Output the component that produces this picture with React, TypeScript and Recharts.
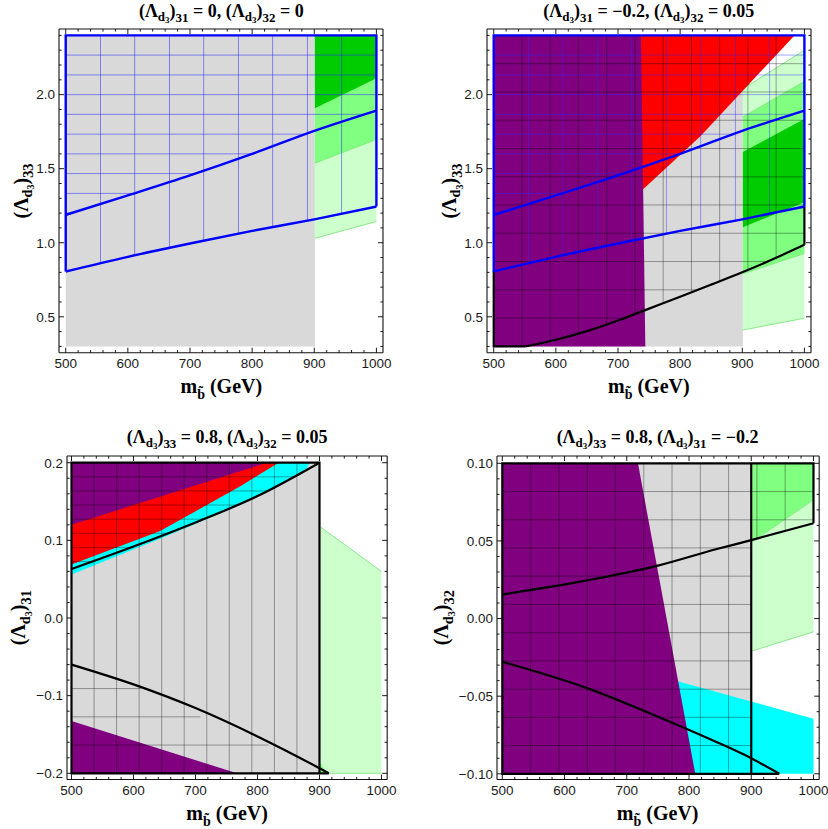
import React from 'react';
import { ComposedChart, Area, Line, XAxis, YAxis } from 'recharts';

// ---------------- ticks ----------------
const MASS_MAJOR = [500, 600, 700, 800, 900, 1000];
const MASS_TICKS = [500, 520, 540, 560, 580, 600, 620, 640, 660, 680, 700, 720, 740, 760, 780, 800, 820, 840, 860, 880, 900, 920, 940, 960, 980, 1000];
const L33_MAJOR = [0.5, 1.0, 1.5, 2.0];
const L33_TICKS = [0.3, 0.4, 0.5, 0.6, 0.7, 0.8, 0.9, 1.0, 1.1, 1.2, 1.3, 1.4, 1.5, 1.6, 1.7, 1.8, 1.9, 2.0, 2.1, 2.2, 2.3, 2.4];
const L31_MAJOR = [-0.2, -0.1, 0, 0.1, 0.2];
const L31_TICKS = [-0.2, -0.18, -0.16, -0.14, -0.12, -0.1, -0.08, -0.06, -0.04, -0.02, 0, 0.02, 0.04, 0.06, 0.08, 0.1, 0.12, 0.14, 0.16, 0.18, 0.2];
const L32_MAJOR = [-0.1, -0.05, 0, 0.05, 0.1];
const L32_TICKS = [-0.1, -0.09, -0.08, -0.07, -0.06, -0.05, -0.04, -0.03, -0.02, -0.01, 0, 0.01, 0.02, 0.03, 0.04, 0.05, 0.06, 0.07, 0.08, 0.09, 0.1];

// ---------------- panel A: (L)31 = 0, (L)32 = 0 ----------------  rows: [x, low, high]
const A_GRAY = [[500, 0.3, 2.4], [901, 0.3, 2.4]];
const A_LIGHT = [[901, 1.03, 2.4], [1000, 1.143, 2.4]];
const A_MED = [[901, 1.537, 2.4], [1000, 1.697, 2.4]];
const A_DARK = [[901, 1.908, 2.4], [1000, 2.11, 2.4]];
// blue contours (shared by A and B): [x, y]
const BLUE_UPPER = [[500, 1.188], [600, 1.32], [700, 1.455], [800, 1.6], [900, 1.755], [1000, 1.892]];
const BLUE_LOWER = [[500, 0.806], [600, 0.905], [700, 0.995], [800, 1.08], [900, 1.158], [1000, 1.244]];
const BLUE_EDGES = [[1000, 1.244], [1000, 2.4], [500, 2.4], [500, 0.806]];
// blue mesh: verticals [x, yBottom, yTop], horizontals [y, xStart, xEnd]
const BLUE_MESH_V = [[556, 0.86, 2.4], [611, 0.915, 2.4], [667, 0.965, 2.4], [722, 1.015, 2.4], [778, 1.063, 2.4], [833, 1.107, 2.4], [889, 1.15, 2.4], [944, 1.195, 2.4]];
const BLUE_MESH_H = [[2.267, 500, 1000], [2.133, 500, 1000], [2.0, 500, 1000], [1.867, 500, 983], [1.733, 500, 886], [1.6, 500, 800], [1.467, 500, 708], [1.333, 500, 610], [1.2, 500, 511]];

// ---------------- panel B: (L)31 = -0.2, (L)32 = 0.05 ----------------
const B_GRAY = [[500, 0.3, 2.4], [901, 0.3, 2.4]];
const B_RED = [[735, 1.36, 2.4], [740, 1.36, 2.4], [833, 1.72, 2.4], [984, 2.4, 2.4]];
const B_PURPLE = [[500, 0.3, 2.4], [737, 0.3, 2.4], [744, 0.3, 0.3]];
const B_LIGHT = [[901, 0.41, 2.04], [1000, 0.49, 2.3]];
const B_MED = [[901, 0.79, 1.85], [1000, 0.927, 2.09]];
const B_DARK = [[901, 1.105, 1.612], [1000, 1.274, 1.835]];
const B_CURVE = [[551, 0.3], [600, 0.345], [650, 0.403], [700, 0.475], [750, 0.555], [800, 0.635], [850, 0.717], [900, 0.8], [950, 0.89], [1000, 0.986]];
const B_EDGES = [[1000, 0.986], [1000, 1.244]];
const B_FLOOR = [[551, 0.3], [500, 0.3], [500, 0.81]];
const B_MESH_V = [[545.5, 0.3, 2.4], [591, 0.337, 2.4], [636.4, 0.387, 2.4], [681.8, 0.448, 2.4], [727.3, 0.518, 2.4], [772.7, 0.592, 2.4], [818.2, 0.665, 2.4], [863.6, 0.74, 2.4], [909.1, 0.815, 2.4], [954.5, 0.9, 2.4]];
const B_MESH_H = [[0.491, 500, 711], [0.682, 500, 828], [0.873, 500, 940], [1.064, 500, 1000], [1.255, 500, 1000], [1.445, 500, 1000], [1.636, 500, 1000], [1.827, 500, 1000], [2.018, 500, 1000], [2.209, 500, 1000]];

// ---------------- panel C: (L)33 = 0.8, (L)32 = 0.05 ----------------
const C_GRAY = [[500, -0.2, 0.2], [900, -0.2, 0.2]];
const C_LIGHT = [[902, -0.2, 0.117], [1000, -0.2, 0.06]];
const C_MEDTRI = [[901, -0.2, -0.186], [912, -0.2, -0.2]];
const C_PURPLE_TOP = [[500, 0.12, 0.2], [815, 0.2, 0.2]];
const C_RED = [[500, 0.069, 0.2], [643, 0.112, 0.2], [773, 0.17, 0.2], [834, 0.2, 0.2]];
const C_CYAN = [[500, 0.056, 0.2], [643, 0.102, 0.2], [773, 0.146, 0.2], [834, 0.172, 0.2], [880, 0.193, 0.2], [884, 0.2, 0.2]];
const C_PURPLE_LOW = [[500, -0.2, -0.1325], [767, -0.2, -0.2]];
const C_UPPER = [[500, 0.063], [600, 0.092], [700, 0.123], [800, 0.157], [900, 0.2]];
const C_LOWER = [[500, -0.06], [600, -0.0855], [700, -0.116], [800, -0.1525], [900, -0.1935], [915, -0.2]];
const C_FRAME = [[915, -0.2], [500, -0.2], [500, 0.2], [900, 0.2], [900, -0.2]];
const C_MESH_V = [[536.4, -0.2, 0.2], [572.7, -0.2, 0.2], [609.1, -0.2, 0.2], [645.5, -0.2, 0.2], [681.8, -0.2, 0.2], [718.2, -0.2, 0.2], [754.5, -0.2, 0.2], [790.9, -0.2, 0.2], [827.3, -0.2, 0.2], [863.6, -0.2, 0.2]];
const C_MESH_H = [[0.0727, 500, 533], [0.0909, 500, 596], [0.1091, 500, 655], [0.1273, 500, 713], [0.1455, 500, 766], [0.1636, 500, 815], [0.1818, 500, 858], [-0.0909, 500, 612], [-0.1273, 500, 708], [-0.1636, 500, 818]];

// ---------------- panel D: (L)33 = 0.8, (L)31 = -0.2 ----------------
const D_GRAY = [[500, -0.1, 0.1], [900, -0.1, 0.1]];
const D_LIGHT = [[902, -0.0208, 0.1], [1000, -0.0086, 0.1]];
const D_MED = [[902, 0.0495, 0.1], [1000, 0.0765, 0.1]];
const D_CYAN = [[770, -0.1, -0.039], [783, -0.1, -0.0406], [1000, -0.1, -0.0645]];
const D_PURPLE = [[500, -0.1, 0.1], [718, -0.1, 0.1], [810, -0.1, -0.1]];
const D_UPPER = [[500, 0.0155], [634, 0.0244], [750, 0.0341], [843, 0.0446], [900, 0.0505], [1000, 0.0614]];
const D_LOWER = [[500, -0.0278], [634, -0.0445], [750, -0.0632], [843, -0.0793], [900, -0.09], [945, -0.1]];
const D_FRAME = [[945, -0.1], [500, -0.1], [500, 0.1], [1000, 0.1], [1000, 0.0614]];
const D_DIVIDER = [[900, -0.1], [900, 0.1]];
const D_MESH_V = [[545.5, -0.1, 0.1], [591, -0.1, 0.1], [636.4, -0.1, 0.1], [681.8, -0.1, 0.1], [727.3, -0.1, 0.1], [772.7, -0.1, 0.1], [818.2, -0.1, 0.1], [863.6, -0.1, 0.1], [909.1, 0.051, 0.1], [954.5, 0.056, 0.1]];
const D_MESH_H = [[-0.0818, 500, 900], [-0.0636, 500, 900], [-0.0455, 500, 900], [-0.0273, 500, 900], [-0.0091, 500, 900], [0.0091, 500, 900], [0.0273, 500, 900], [0.0455, 500, 900], [0.0636, 500, 1000], [0.0818, 500, 1000]];

// ---------------- colours ----------------
const GRAY = '#d9d9d9';
const PURPLE = '#800080';
const RED = '#ff0000';
const CYAN = '#00ffff';
const DARKG = '#00cc00';
const MEDG = '#80ff80';
const LIGHTG = '#ccffcc';
const GEDGE = '#66dd66';
const BLUE = '#0000ff';

// ---------------- helpers ----------------
const band = (rows: number[][]) => rows.map(([x, lo, hi]) => ({ x, r: [lo, hi] }));
const pts = (rows: number[][]) => rows.map(([x, y]) => ({ x, y }));
const vSegs = (rows: number[][]) => rows.flatMap(([x, y0, y1]) => [{ x, y: y0 }, { x, y: y1 }, { x, y: null }]);
const hSegs = (rows: number[][]) => rows.flatMap(([y, x0, x1]) => [{ x: x0, y }, { x: x1, y }, { x: x1, y: null }]);

const fillArea = (key: string, rows: number[][], fill: string, stroke = 'none', sw = 0) => (
  <Area key={key} data={band(rows)} dataKey="r" type="linear" xAxisId="b" yAxisId="l" fill={fill} fillOpacity={1}
    stroke={stroke} strokeWidth={sw} dot={false} activeDot={false} isAnimationActive={false} />
);
const strokeLine = (key: string, data: any[], color: string, width: number, opacity = 1, curve = 'linear') => (
  <Line key={key} data={data} dataKey="y" type={curve as any} xAxisId="b" yAxisId="l" stroke={color} strokeWidth={width}
    strokeOpacity={opacity} dot={false} activeDot={false} isAnimationActive={false} connectNulls={false} strokeLinejoin="miter" />
);

const LABEL_FONT = '"Liberation Sans", Arial, sans-serif';
const near = (v: number, list: number[]) => list.some((m) => Math.abs(m - v) < 1e-6);
const fmtNum = (v: number, d: number) => {
  const s = Math.abs(v).toFixed(d);
  return v < -1e-9 ? '\u2212' + s : s;
};

const makeTick = (side: string, majors: number[], digits: number, labels: boolean) => (p: any) => {
  const { x, y, payload } = p;
  const v = payload.value;
  const maj = near(v, majors);
  const len = maj ? 5 : 2.6;
  let line;
  if (side === 'bottom') line = <line x1={x} x2={x} y1={y} y2={y - len} stroke="#000" strokeWidth={0.9} />;
  else if (side === 'top') line = <line x1={x} x2={x} y1={y} y2={y + len} stroke="#000" strokeWidth={0.9} />;
  else if (side === 'left') line = <line x1={x} x2={x + len} y1={y} y2={y} stroke="#000" strokeWidth={0.9} />;
  else line = <line x1={x} x2={x - len} y1={y} y2={y} stroke="#000" strokeWidth={0.9} />;
  let label = null;
  if (labels && maj) {
    if (side === 'bottom')
      label = <text x={x} y={y + 15.8} textAnchor="middle" fontFamily={LABEL_FONT} fontSize={13.5} fill="#1a1a1a">{fmtNum(v, digits)}</text>;
    else
      label = <text x={x - 4} y={y + 4.8} textAnchor="end" fontFamily={LABEL_FONT} fontSize={13.5} fill="#1a1a1a">{fmtNum(v, digits)}</text>;
  }
  return <g>{line}{label}</g>;
};

type PanelProps = {
  frame: { l: number; t: number; w: number; h: number };
  xDom: number[];
  yDom: number[];
  yMajor: number[];
  yTicks: number[];
  yDigits: number;
  children: any;
};

function Panel({ frame, xDom, yDom, yMajor, yTicks, yDigits, children }: PanelProps) {
  const ML = 52, MT = 10, MR = 10, MB = 26;
  const axisLine = { stroke: '#111', strokeWidth: 1.1 };
  return (
    <div style={{ position: 'absolute', left: frame.l - ML, top: frame.t - MT }}>
      <ComposedChart width={frame.w + ML + MR} height={frame.h + MT + MB} margin={{ top: 8, right: 8, bottom: 6, left: 8 }}>
        <XAxis xAxisId="b" type="number" dataKey="x" domain={xDom} allowDataOverflow ticks={MASS_TICKS} interval={0}
          orientation="bottom" height={MB - 6} tickSize={0} tickMargin={0} tickLine={false} axisLine={axisLine}
          tick={makeTick('bottom', MASS_MAJOR, 0, true)} />
        <XAxis xAxisId="t" type="number" dataKey="x" domain={xDom} allowDataOverflow ticks={MASS_TICKS} interval={0}
          orientation="top" height={MT - 8} tickSize={0} tickMargin={0} tickLine={false} axisLine={axisLine}
          tick={makeTick('top', MASS_MAJOR, 0, false)} />
        <YAxis yAxisId="l" type="number" domain={yDom} allowDataOverflow ticks={yTicks} interval={0}
          orientation="left" width={ML - 8} tickSize={0} tickMargin={0} tickLine={false} axisLine={axisLine}
          tick={makeTick('left', yMajor, yDigits, true)} />
        <YAxis yAxisId="r" type="number" domain={yDom} allowDataOverflow ticks={yTicks} interval={0}
          orientation="right" width={MR - 8} tickSize={0} tickMargin={0} tickLine={false} axisLine={axisLine}
          tick={makeTick('right', yMajor, yDigits, false)} />
        {children}
      </ComposedChart>
    </div>
  );
}

// ---------------- text helpers ----------------
const SERIF = '"Liberation Serif", "Times New Roman", serif';

function lamParts(ij: string, key: string, fs: number) {
  return [
    <tspan key={key + 'a'} fontSize={fs}>(Λ</tspan>,
    <tspan key={key + 'b'} fontSize={fs * 0.72} dy={fs * 0.22}>d</tspan>,
    <tspan key={key + 'c'} fontSize={fs * 0.5} dy={fs * 0.12}>3</tspan>,
    <tspan key={key + 'd'} fontSize={fs} dy={-fs * 0.34}>)</tspan>,
    <tspan key={key + 'e'} fontSize={fs * 0.72} dy={fs * 0.28}>{ij}</tspan>,
  ];
}

function Title({ x, y, a, av, b, bv }: { x: number; y: number; a: string; av: string; b: string; bv: string }) {
  const fs = 18;
  return (
    <text x={x} y={y} textAnchor="middle" fontFamily={SERIF} fontWeight="bold" fontSize={fs} fill="#000" style={{ whiteSpace: 'pre' }}>
      {lamParts(a, 'p', fs)}
      <tspan fontSize={fs} dy={-fs * 0.28}>{' = ' + av + ', '}</tspan>
      {lamParts(b, 'q', fs)}
      <tspan fontSize={fs} dy={-fs * 0.28}>{' = ' + bv}</tspan>
    </text>
  );
}

function XLabel({ x, y }: { x: number; y: number }) {
  const fs = 20;
  return (
    <text x={x} y={y} textAnchor="middle" fontFamily={SERIF} fontWeight="bold" fontSize={fs} fill="#000" style={{ whiteSpace: 'pre' }}>
      <tspan>m</tspan>
      <tspan fontSize={fs * 0.7} dy={fs * 0.28}>{'b\u0303'}</tspan>
      <tspan fontSize={fs} dy={-fs * 0.28}>{' (GeV)'}</tspan>
    </text>
  );
}

function YLabel({ x, y, ij }: { x: number; y: number; ij: string }) {
  const fs = 20;
  return (
    <text x={x} y={y} transform={`rotate(-90 ${x} ${y})`} textAnchor="middle" fontFamily={SERIF} fontWeight="bold" fontSize={fs} fill="#000">
      {lamParts(ij, 'y', fs)}
    </text>
  );
}

// ---------------- frames / domains ----------------
const FA = { l: 59.3, t: 29.3, w: 324, h: 323.7 };
const FB = { l: 486.8, t: 29.3, w: 324, h: 323.7 };
const FC = { l: 67, t: 456, w: 320.2, h: 323.5 };
const FD = { l: 496.5, t: 456, w: 322.2, h: 323.5 };
const XDOM_TOP = [489.2, 1010.6];
const YDOM_TOP = [0.2575, 2.4432];
const XDOM_C = [492.74, 1009.2];
const YDOM_C = [-0.20798, 0.20863];
const XDOM_D = [491.48, 1009.15];
const YDOM_D = [-0.10367, 0.1047];

const MESH_BLACK = '#000000';
const MESH_OP = 0.5;
const MESH_BLUE = '#2a2aff';

export default function App() {
  return (
    <div style={{ position: 'absolute', left: 0, top: 0, width: 828, height: 829, background: '#fff', overflow: 'hidden' }}>
      <Panel frame={FA} xDom={XDOM_TOP} yDom={YDOM_TOP} yMajor={L33_MAJOR} yTicks={L33_TICKS} yDigits={1}>
        {fillArea('ag', A_GRAY, GRAY)}
        {fillArea('al', A_LIGHT, LIGHTG, GEDGE, 0.7)}
        {fillArea('am', A_MED, MEDG, GEDGE, 0.5)}
        {fillArea('ad', A_DARK, DARKG)}
        {strokeLine('abv', vSegs(BLUE_MESH_V), MESH_BLUE, 0.7, 0.75)}
        {strokeLine('abh', hSegs(BLUE_MESH_H), MESH_BLUE, 0.7, 0.75)}
        {strokeLine('abu', pts(BLUE_UPPER), BLUE, 2.4, 1, 'monotone')}
        {strokeLine('abl', pts(BLUE_LOWER), BLUE, 2.4, 1, 'monotone')}
        {strokeLine('abe', pts(BLUE_EDGES), BLUE, 2.4)}
      </Panel>

      <Panel frame={FB} xDom={XDOM_TOP} yDom={YDOM_TOP} yMajor={L33_MAJOR} yTicks={L33_TICKS} yDigits={1}>
        {fillArea('bg', B_GRAY, GRAY)}
        {fillArea('bl', B_LIGHT, LIGHTG, GEDGE, 0.7)}
        {fillArea('bm', B_MED, MEDG, GEDGE, 0.5)}
        {fillArea('bd', B_DARK, DARKG)}
        {fillArea('br', B_RED, RED)}
        {fillArea('bp', B_PURPLE, PURPLE)}
        {strokeLine('bkv', vSegs(B_MESH_V), MESH_BLACK, 0.7, MESH_OP)}
        {strokeLine('bkh', hSegs(B_MESH_H), MESH_BLACK, 0.7, MESH_OP)}
        {strokeLine('bbv', vSegs(BLUE_MESH_V), MESH_BLUE, 0.7, 0.6)}
        {strokeLine('bbh', hSegs(BLUE_MESH_H), MESH_BLUE, 0.7, 0.6)}
        {strokeLine('bc', pts(B_CURVE), '#000', 2.2, 1, 'monotone')}
        {strokeLine('be', pts(B_EDGES), '#000', 2.2)}
        {strokeLine('bf', pts(B_FLOOR), '#000', 2.2)}
        {strokeLine('bbu', pts(BLUE_UPPER), BLUE, 2.4, 1, 'monotone')}
        {strokeLine('bbl', pts(BLUE_LOWER), BLUE, 2.4, 1, 'monotone')}
        {strokeLine('bbe', pts(BLUE_EDGES), BLUE, 2.4)}
      </Panel>

      <Panel frame={FC} xDom={XDOM_C} yDom={YDOM_C} yMajor={L31_MAJOR} yTicks={L31_TICKS} yDigits={1}>
        {fillArea('cg', C_GRAY, GRAY)}
        {fillArea('cl', C_LIGHT, LIGHTG, GEDGE, 0.7)}
        {fillArea('cm', C_MEDTRI, MEDG)}
        {fillArea('cc', C_CYAN, CYAN)}
        {fillArea('cr', C_RED, RED)}
        {fillArea('cpt', C_PURPLE_TOP, PURPLE)}
        {fillArea('cpl', C_PURPLE_LOW, PURPLE)}
        {strokeLine('ckv', vSegs(C_MESH_V), MESH_BLACK, 0.7, MESH_OP)}
        {strokeLine('ckh', hSegs(C_MESH_H), MESH_BLACK, 0.7, MESH_OP)}
        {strokeLine('cu', pts(C_UPPER), '#000', 2.2, 1, 'monotone')}
        {strokeLine('clo', pts(C_LOWER), '#000', 2.2, 1, 'monotone')}
        {strokeLine('cf', pts(C_FRAME), '#000', 2.2)}
      </Panel>

      <Panel frame={FD} xDom={XDOM_D} yDom={YDOM_D} yMajor={L32_MAJOR} yTicks={L32_TICKS} yDigits={2}>
        {fillArea('dg', D_GRAY, GRAY)}
        {fillArea('dl', D_LIGHT, LIGHTG, GEDGE, 0.7)}
        {fillArea('dm', D_MED, MEDG, GEDGE, 0.5)}
        {fillArea('dc', D_CYAN, CYAN)}
        {fillArea('dp', D_PURPLE, PURPLE)}
        {strokeLine('dkv', vSegs(D_MESH_V), MESH_BLACK, 0.7, MESH_OP)}
        {strokeLine('dkh', hSegs(D_MESH_H), MESH_BLACK, 0.7, MESH_OP)}
        {strokeLine('du', pts(D_UPPER), '#000', 2.2, 1, 'monotone')}
        {strokeLine('dlo', pts(D_LOWER), '#000', 2.2, 1, 'monotone')}
        {strokeLine('df', pts(D_FRAME), '#000', 2.2)}
        {strokeLine('dd', pts(D_DIVIDER), '#000', 2.2)}
      </Panel>

      <svg width={828} height={829} style={{ position: 'absolute', left: 0, top: 0, pointerEvents: 'none' }}>
        <Title x={221.3} y={17} a="31" av="0" b="32" bv="0" />
        <Title x={648.8} y={17} a="31" av={'\u22120.2'} b="32" bv="0.05" />
        <Title x={227.1} y={443} a="33" av="0.8" b="32" bv="0.05" />
        <Title x={657.6} y={443} a="33" av="0.8" b="31" bv={'\u22120.2'} />
        <XLabel x={221.3} y={393} />
        <XLabel x={648.8} y={393} />
        <XLabel x={227.1} y={820} />
        <XLabel x={657.6} y={820} />
        <YLabel x={27.5} y={191} ij="33" />
        <YLabel x={456} y={191} ij="33" />
        <YLabel x={25.5} y={617.7} ij="31" />
        <YLabel x={448.5} y={617.7} ij="32" />
      </svg>
    </div>
  );
}
